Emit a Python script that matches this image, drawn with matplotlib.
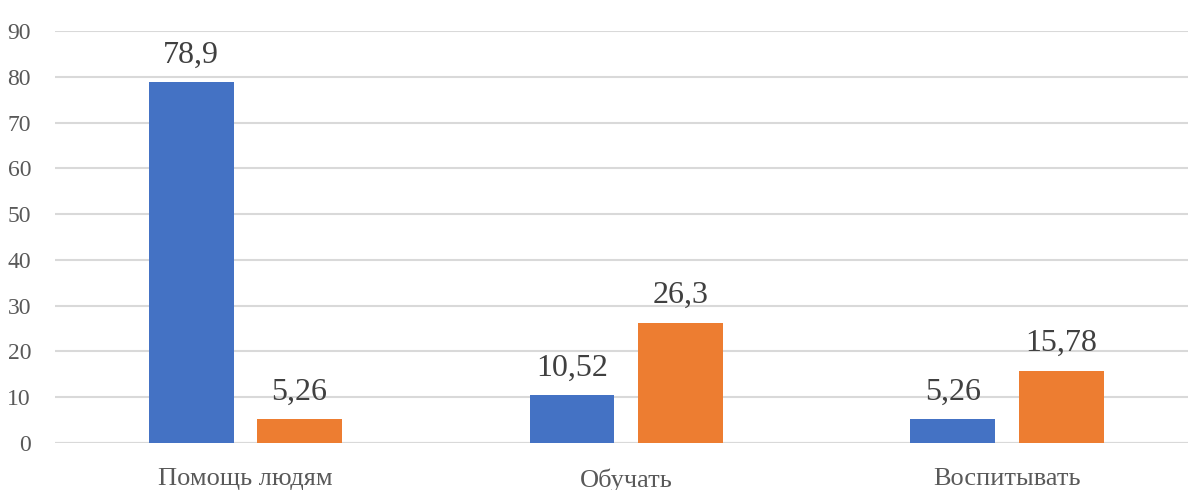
import matplotlib
matplotlib.use("Agg")
import matplotlib.pyplot as plt
import numpy as np

categories = ["Помощь людям", "Обучать", "Воспитывать"]
series_1 = [78.9, 10.52, 5.26]
series_2 = [5.26, 26.3, 15.78]
y_ticks = [0, 10, 20, 30, 40, 50, 60, 70, 80, 90]

def fmt(v):
    return f"{v:g}".replace(".", ",")

plt.rcParams["font.family"] = ["Liberation Serif", "DejaVu Serif"]

fig = plt.figure(figsize=(11.88, 4.9), dpi=100)
ax = fig.add_axes([0.046, 0.0959, 0.962, 0.8408])

x = np.arange(len(categories))
width = 0.223
off = 0.142
blue, orange = "#4472C4", "#ED7D31"

b1 = ax.bar(x - off, series_1, width, color=blue, zorder=3)
b2 = ax.bar(x + off, series_2, width, color=orange, zorder=3)

for bars, vals in ((b1, series_1), (b2, series_2)):
    for rect, v in zip(bars, vals):
        ax.annotate(fmt(v), (rect.get_x() + rect.get_width() / 2, v),
                    xytext=(0, 9), textcoords="offset points",
                    ha="center", va="bottom", fontsize=23, color="#404040",
                    zorder=4)

ax.set_xlim(-0.5, len(categories) - 0.5)
ax.set_ylim(0, 90)
ax.set_yticks(y_ticks)
ax.set_yticklabels([str(t) for t in y_ticks])
ax.set_xticks(x)
ax.set_xticklabels(categories)

ax.yaxis.grid(True, color="#d9d9d9", linewidth=1.5, zorder=0)
ax.set_axisbelow(True)
for s in ax.spines.values():
    s.set_visible(False)
ax.axhline(0, color="#d9d9d9", linewidth=1.5, zorder=1)

ax.tick_params(axis="y", length=0, pad=17, labelsize=17, labelcolor="#595959")
ax.tick_params(axis="x", length=0, pad=18, labelsize=19, labelcolor="#595959")

fig.savefig("out.png", dpi=100)
